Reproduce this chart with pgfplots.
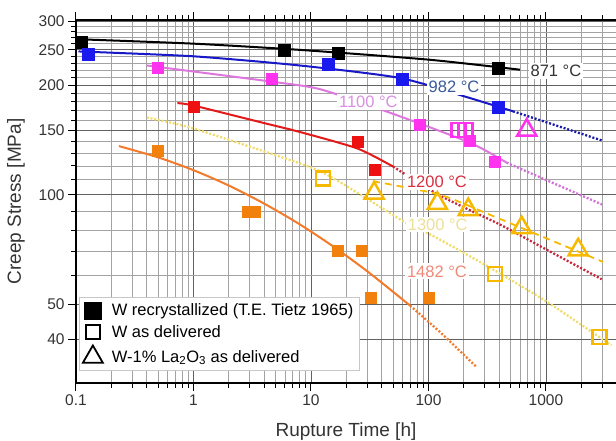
\documentclass[border=0pt]{standalone}
\usepackage{fontspec}
\setmainfont{Liberation Sans}
\usepackage{pgfplots}
\pgfplotsset{compat=1.18}
\definecolor{tickgray}{HTML}{333333}
\definecolor{blueline}{HTML}{1818C8}
\definecolor{bluesq}{HTML}{1A1AEE}
\definecolor{bluedot}{HTML}{1A1AAA}
\definecolor{magsq}{HTML}{FF33EE}
\definecolor{magline}{HTML}{DD77DD}
\definecolor{magdot}{HTML}{D070D8}
\definecolor{redsq}{HTML}{EE1111}
\definecolor{redline}{HTML}{E21A1A}
\definecolor{reddot}{HTML}{C8283C}
\definecolor{yelline}{HTML}{F0DC6A}
\definecolor{amber}{HTML}{F7B900}
\definecolor{orsq}{HTML}{F2800C}
\definecolor{orline}{HTML}{F27A2A}
\definecolor{lab982}{HTML}{3A5A9A}
\definecolor{lab1100}{HTML}{D890E0}
\definecolor{lab1200}{HTML}{D83040}
\definecolor{lab1300}{HTML}{EDE098}
\definecolor{lab1482}{HTML}{F08878}
\begin{document}
\begin{tikzpicture}
\useasboundingbox (0,0) rectangle (616pt,441pt);
\clip (0,0) rectangle (616pt,441pt);
\begin{axis}[
  at={(76pt,58pt)}, anchor=south west,
  scale only axis, width=540pt, height=363pt,
  xmode=log, ymode=log,
  xmin=0.1, xmax=3945, ymin=30.4, ymax=302,
  axis x line=box, axis y line*=left,
  xtick={0.1,1,10,100,1000}, xticklabels={0.1,1,10,100,1000},
  minor xtick={0.2,0.3,0.4,0.5,0.6,0.7,0.8,0.9,2,3,4,5,6,7,8,9,20,30,40,50,60,70,80,90,200,300,400,500,600,700,800,900,2000,3000},
  ytick={40,50,100,150,200,250,300}, yticklabels={40,50,100,150,200,250,300},
  minor ytick={60,70,80,90,110,120,130,140,160,170,180,190,210,220,230,240,260,270,280,290},
  xtick pos=both, ytick pos=left,
  grid=both,
  major grid style={draw=black!62, line width=0.9pt},
  minor grid style={draw=black!36, line width=0.8pt},
  tick align=outside, major tick length=8pt, minor tick length=5pt,
  tick style={black, line width=1pt},
  axis line style={black, line width=1.3pt},
  ticklabel style={font=\fontsize{15.5}{18}\selectfont, text=tickgray},
  xlabel={Rupture Time [h]}, ylabel={Creep Stress [MPa]},
  label style={font=\fontsize{19}{22}\selectfont, text=tickgray},
  xlabel style={at={(axis description cs:0.5,-0.134)}, anchor=center},
  ylabel style={at={(axis description cs:-0.111,0.5)}, anchor=center},
  legend style={at={(axis description cs:0.005,0.036)}, anchor=south west,
    draw=black!22, fill=white, font=\fontsize{16.5}{19}\selectfont,
    row sep=4.5pt, inner xsep=4pt, inner ysep=4pt,
    /tikz/every odd column/.append style={column sep=7pt}},
  legend cell align=left,
]
% ---------- legend ----------
\addlegendimage{only marks, mark=square*, mark size=8.5pt, black}
\addlegendentry{W recrystallized (T.E. Tietz 1965)}
\addlegendimage{only marks, mark=square, mark size=7pt, line width=1.8pt, black}
\addlegendentry{W as delivered}
\addlegendimage{only marks, mark=triangle, mark size=11.5pt, line width=1.8pt, black}
\addlegendentry{W-1\% La\textsubscript{2}O\textsubscript{3} as delivered}
% ---------- 871 C ----------
\addplot[black, line width=2pt, smooth, tension=0.4, forget plot] coordinates {(0.1,267.5)(1,260)(8,250)(100,235)(600,220.5)};
% ---------- 982 C ----------
\addplot[blueline, line width=2pt, smooth, tension=0.4, forget plot] coordinates {(0.105,247.5)(1,240)(8,226.5)(57,209.3)(211,185.5)(524,169.5)};
\addplot[bluedot, line width=2.3pt, dash pattern=on 2pt off 1.8pt, forget plot] coordinates {(524,169.5)(2980,141)};
% ---------- 1100 C ----------
\addplot[magline, line width=2pt, smooth, tension=0.4, forget plot] coordinates {(0.4,226.5)(1,218)(4.6,204.5)(11.9,195)(47,168)(225,139)(462,122.5)};
\addplot[magdot, line width=2.3pt, dash pattern=on 2pt off 1.8pt, forget plot] coordinates {(462,122.5)(3000,94)};
% ---------- 1200 C ----------
\addplot[redline, line width=2pt, smooth, tension=0.4, forget plot] coordinates {(0.73,178.5)(1,175.8)(4.2,156.7)(8,148.8)(24.8,134)(50,119.5)};
\addplot[reddot, line width=2.3pt, dash pattern=on 2pt off 1.8pt, smooth, tension=0.4, forget plot] coordinates {(50,119.5)(125,99.5)(406,82.8)(1000,70.8)(2980,58.6)};
% ---------- 1300 C ----------
\addplot[yelline, line width=2.3pt, dash pattern=on 2pt off 1.8pt, smooth, tension=0.4, forget plot] coordinates {(0.4,163)(1,152)(8,122)(15.5,111)(61,84.6)(110,77)(313,63.8)(1000,51)(3600,38.6)};
% ---------- 1482 C ----------
\addplot[orline, line width=2pt, smooth, tension=0.5, forget plot] coordinates {(0.232,136)(0.501,126.6)(1,116.8)(1.995,106)(3.98,94.6)(7.94,83.1)(15.85,71.7)(31.6,60.9)(69.7,49.6)};
\addplot[orline, line width=2.3pt, dash pattern=on 2pt off 1.8pt, smooth, tension=0.5, forget plot] coordinates {(69.7,49.6)(125.9,41.9)(257,33.6)};
% ---------- W-1% La2O3 fit ----------
\addplot[amber, line width=1.8pt, dash pattern=on 7pt off 5pt, smooth, tension=0.4, forget plot] coordinates {(33.7,108.9)(125,100)(333,88.1)(889,77.2)(3055,65.4)};
% ---------- labels ----------
\node[fill=white, inner sep=2pt, font=\fontsize{16.5}{19}\selectfont, text=tickgray] at (axis cs:1216,219) {871 °C};
\node[fill=white, inner sep=2pt, font=\fontsize{16.5}{19}\selectfont, text=lab982] at (axis cs:165,198) {982 °C};
\node[fill=white, inner sep=2pt, font=\fontsize{16.5}{19}\selectfont, text=lab1100] at (axis cs:30.8,180) {1100 °C};
\node[fill=white, inner sep=2pt, font=\fontsize{16.5}{19}\selectfont, text=lab1200] at (axis cs:118,108.5) {1200 °C};
\node[fill=white, inner sep=2pt, font=\fontsize{16.5}{19}\selectfont, text=lab1300] at (axis cs:120,82.8) {1300 °C};
\node[fill=white, inner sep=2pt, font=\fontsize{16.5}{19}\selectfont, text=lab1482] at (axis cs:118,61.6) {1482 °C};
% ---------- filled squares: W recrystallized ----------
\addplot[only marks, mark=square*, mark size=6pt, black, forget plot] coordinates {(0.11,263)(5.9,250)(17,244)(390,222)};
\addplot[only marks, mark=square*, mark size=6pt, bluesq, forget plot] coordinates {(0.126,243.8)(14,228.7)(60,208)(390,174)};
\addplot[only marks, mark=square*, mark size=5.5pt, magsq, forget plot] coordinates {(0.5,223.5)(4.6,208)(85,155.5)(225,140.5)(365,123.5)};
\addplot[only marks, mark=square*, mark size=5.5pt, redsq, forget plot] coordinates {(1,174)(25,139.5)(35,117.5)};
\addplot[only marks, mark=square*, mark size=5.5pt, orsq, forget plot] coordinates {(0.5,132)(2.9,90)(3.3,90)(17,70)(27,70)(32.4,52)(100,52)};
% ---------- hollow squares: W as delivered ----------
\addplot[only marks, mark=square, mark size=7pt, line width=2.6pt, magsq, forget plot] coordinates {(181,150.5)(207,150.5)};
\addplot[only marks, mark=square, mark size=7pt, line width=2.6pt, amber, forget plot] coordinates {(12.7,110.6)(368,60.5)(2850,40.7)};
% ---------- hollow triangles: W-1% La2O3 ----------
\addplot[only marks, mark=triangle, mark size=11pt, line width=2.5pt, magsq, forget plot] coordinates {(686,150.5)};
\addplot[only marks, mark=triangle, mark size=11pt, line width=2.5pt, amber, forget plot] coordinates {(34.5,101)(119,94.7)(218,91)(621,81.2)(1880,70.6)};
\end{axis}
\end{tikzpicture}
\end{document}
